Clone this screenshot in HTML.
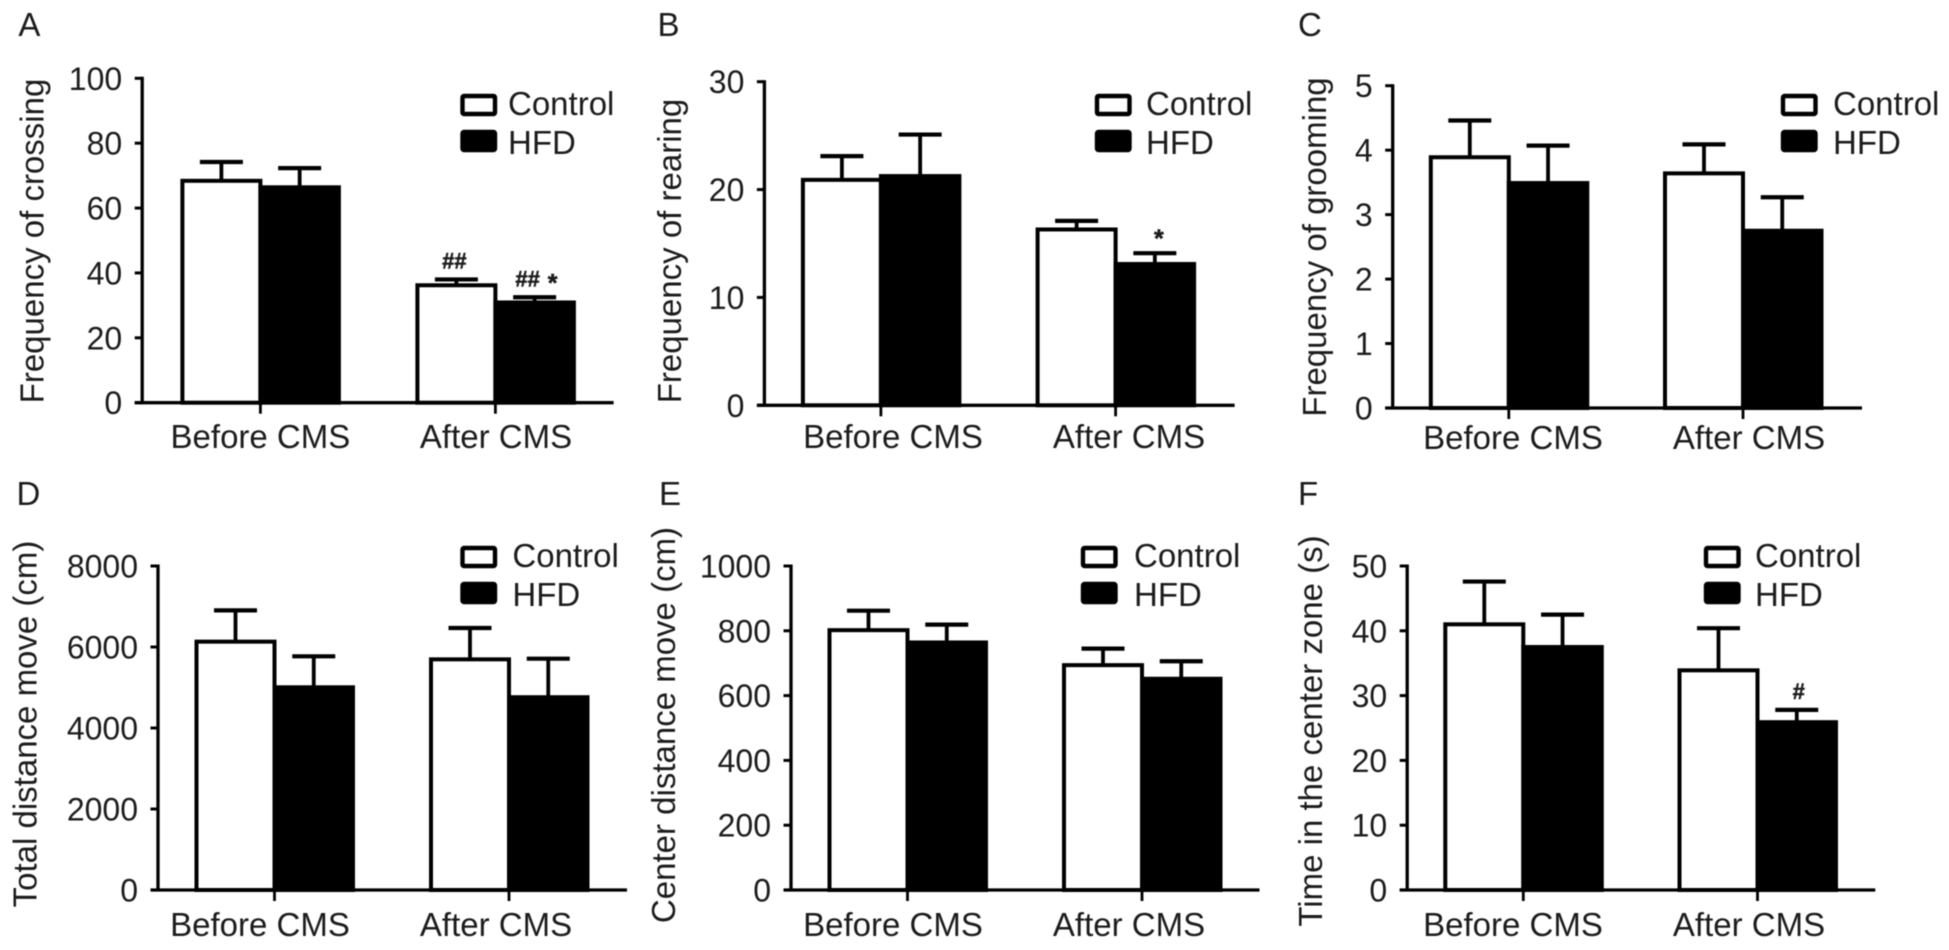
<!DOCTYPE html>
<html lang="en">
<head>
<meta charset="utf-8">
<title>Behavioural test bar charts</title>
<style>
html,body{margin:0;padding:0;background:#fff;width:1949px;height:950px;overflow:hidden}
svg{display:block;filter:blur(0.6px)}
text{font-family:"Liberation Sans",sans-serif;fill:#1c1c1c}
</style>
</head>
<body>
<svg id="figure" xmlns="http://www.w3.org/2000/svg" width="1949" height="950" viewBox="0 0 1949 950"></svg>
<script>
const categories = ['Before CMS', 'After CMS'];
const seriesNames = ['Control', 'HFD'];

const crossingTicks = [0, 20, 40, 60, 80, 100];
const crossingControl = [68.4, 36.2];
const crossingControlErr = [5.8, 1.8];
const crossingHfd = [66.4, 30.9];
const crossingHfdErr = [5.9, 1.6];

const rearingTicks = [0, 10, 20, 30];
const rearingControl = [20.9, 16.3];
const rearingControlErr = [2.2, 0.8];
const rearingHfd = [21.25, 13.1];
const rearingHfdErr = [3.85, 1.0];

const groomingTicks = [0, 1, 2, 3, 4, 5];
const groomingControl = [3.89, 3.64];
const groomingControlErr = [0.57, 0.45];
const groomingHfd = [3.49, 2.75];
const groomingHfdErr = [0.58, 0.52];

const totalDistanceTicks = [0, 2000, 4000, 6000, 8000];
const totalDistanceControl = [6132, 5695];
const totalDistanceControlErr = [773, 774];
const totalDistanceHfd = [5005, 4760];
const totalDistanceHfdErr = [765, 952];

const centerDistanceTicks = [0, 200, 400, 600, 800, 1000];
const centerDistanceControl = [802, 694];
const centerDistanceControlErr = [60, 51];
const centerDistanceHfd = [764, 652];
const centerDistanceHfdErr = [55, 54];

const centerTimeTicks = [0, 10, 20, 30, 40, 50];
const centerTimeControl = [41, 33.9];
const centerTimeControlErr = [6.6, 6.5];
const centerTimeHfd = [37.5, 25.9];
const centerTimeHfdErr = [5, 1.9];

const panels = [
  {key:'a', letter:'A', title:'Frequency of crossing', ticks:crossingTicks, control:crossingControl, controlErr:crossingControlErr, hfd:crossingHfd, hfdErr:crossingHfdErr,
   marks:[{series:0,cat:1,text:'##',dx:-2},{series:1,cat:1,text:'##',dx:-7},{series:1,cat:1,text:'*',dx:18}],
   box:{axisX:142.2,top:78.3,bottom:402.7,cat0:260.4,cat1:495.4,label0:260.4,label1:496,xEnd:613.6,titleX:43.5,titleY:241,letterX:18.4,letterY:36,legendX:460.5,legendTextX:508,legendY:94,labelY:448}},
  {key:'b', letter:'B', title:'Frequency of rearing', ticks:rearingTicks, control:rearingControl, controlErr:rearingControlErr, hfd:rearingHfd, hfdErr:rearingHfdErr,
   marks:[{series:1,cat:1,text:'*',dx:4}],
   box:{axisX:764.4,top:81.7,bottom:405.3,cat0:880.9,cat1:1115.6,label0:893,label1:1129,xEnd:1234.6,titleX:681,titleY:251,letterX:657.5,letterY:36,legendX:1095,legendTextX:1146,legendY:94,labelY:448}},
  {key:'c', letter:'C', title:'Frequency of grooming', ticks:groomingTicks, control:groomingControl, controlErr:groomingControlErr, hfd:groomingHfd, hfdErr:groomingHfdErr,
   marks:[],
   box:{axisX:1392.7,top:85.7,bottom:408,cat0:1508.8,cat1:1743,label0:1513,label1:1749,xEnd:1862,titleX:1326,titleY:247,letterX:1298,letterY:36,legendX:1781,legendTextX:1833,legendY:94,labelY:449}},
  {key:'d', letter:'D', title:'Total distance move (cm)', ticks:totalDistanceTicks, control:totalDistanceControl, controlErr:totalDistanceControlErr, hfd:totalDistanceHfd, hfdErr:totalDistanceHfdErr,
   marks:[],
   box:{axisX:158,top:566,bottom:890,cat0:274.5,cat1:509,label0:260,label1:496,xEnd:627,titleX:36.5,titleY:724,letterX:16.5,letterY:505,legendX:460.5,legendTextX:512.4,legendY:546,labelY:936}},
  {key:'e', letter:'E', title:'Center distance move (cm)', ticks:centerDistanceTicks, control:centerDistanceControl, controlErr:centerDistanceControlErr, hfd:centerDistanceHfd, hfdErr:centerDistanceHfdErr,
   marks:[],
   box:{axisX:791,top:566,bottom:890,cat0:907.5,cat1:1142,label0:893,label1:1129,xEnd:1259.5,titleX:675,titleY:725,letterX:659,letterY:505,legendX:1081,legendTextX:1134,legendY:546,labelY:936}},
  {key:'f', letter:'F', title:'Time in the center zone (s)', ticks:centerTimeTicks, control:centerTimeControl, controlErr:centerTimeControlErr, hfd:centerTimeHfd, hfdErr:centerTimeHfdErr,
   marks:[{series:1,cat:1,text:'#',dx:2}],
   box:{axisX:1407.2,top:566,bottom:890,cat0:1523.3,cat1:1757.5,label0:1513,label1:1749,xEnd:1875.3,titleX:1322,titleY:731,letterX:1298,letterY:505,legendX:1704,legendTextX:1755,legendY:546,labelY:936}}
];

const NS = 'http://www.w3.org/2000/svg';
const figure = document.getElementById('figure');

function make(parent, tag, attrs, name, interactable) {
  const el = document.createElementNS(NS, tag);
  for (const k in attrs) el.setAttribute(k, attrs[k]);
  
  
  parent.appendChild(el);
  return el;
}
function makeText(parent, str, attrs, name) {
  const el = make(parent, 'text', attrs, name, false);
  el.textContent = str;
  return el;
}
function line(parent, x1, y1, x2, y2, w, name) {
  return make(parent, 'line', {x1:x1, y1:y1, x2:x2, y2:y2, stroke:'#000', 'stroke-width':w}, name, false);
}

panels.forEach(function (p) {
  const b = p.box;
  const maxTick = p.ticks[p.ticks.length - 1];
  const yScale = function (v) { return b.bottom - (v / maxTick) * (b.bottom - b.top); };
  const catX = function (i) { return i === 0 ? b.cat0 : b.cat1; };
  const labelX = function (i) { return i === 0 ? b.label0 : b.label1; };
  const barW = function (series) { return series === 0 ? 78 : 78.5; };
  const barLeft = function (series, cat) { return series === 0 ? catX(cat) - 78 : catX(cat); };
  const barValue = function (series, cat) { return (series === 0 ? p.control : p.hfd)[cat]; };
  const barErr = function (series, cat) { return (series === 0 ? p.controlErr : p.hfdErr)[cat]; };

  const g = make(figure, 'g', {}, 'panel-' + p.key, false);

  makeText(g, p.letter, {x:b.letterX, y:b.letterY, 'font-size':33}, 'panel-letter-' + p.key);
  makeText(g, p.title, {x:b.titleX, y:b.titleY, 'font-size':33, 'text-anchor':'middle', transform:'rotate(-90 ' + b.titleX + ' ' + b.titleY + ')'}, 'y-axis-title-' + p.key);

  [0, 1].forEach(function (series) {
    categories.forEach(function (c, cat) {
      const x = barLeft(series, cat);
      const v = barValue(series, cat);
      const cap = yScale(v + barErr(series, cat));
      const cx = x + barW(series) / 2;
      line(g, cx, yScale(v), cx, cap, 3.8, 'error-stem-' + p.key + '-' + series + '-' + cat);
      line(g, cx - 21.5, cap, cx + 21.5, cap, 4.2, 'error-cap-' + p.key + '-' + series + '-' + cat);
      make(g, 'rect', {x:x, y:yScale(v), width:barW(series), height:b.bottom - yScale(v),
        fill: series === 0 ? '#fff' : '#000', stroke:'#000', 'stroke-width':4},
        'bar-' + p.key + '-' + seriesNames[series].toLowerCase() + '-' + cat, false);
    });
  });

  line(g, b.axisX, b.top - 1.5, b.axisX, b.bottom + 1.5, 3.3, 'y-axis-' + p.key);
  line(g, b.axisX - 7.5, b.bottom, b.xEnd, b.bottom, 3.3, 'x-axis-' + p.key);

  p.ticks.forEach(function (t) {
    const y = yScale(t);
    line(g, b.axisX - 7.5, y, b.axisX, y, 3, 'y-tick-' + p.key + '-' + t);
    makeText(g, String(t), {x:b.axisX - 20, y:y + 11.5, 'font-size':32, 'text-anchor':'end'}, 'y-tick-label-' + p.key + '-' + t);
  });

  categories.forEach(function (c, cat) {
    line(g, catX(cat), b.bottom, catX(cat), b.bottom + 11, 2.8, 'x-tick-' + p.key + '-' + cat);
    makeText(g, c, {x:labelX(cat), y:b.labelY, 'font-size':33, 'text-anchor':'middle'}, 'x-tick-label-' + p.key + '-' + cat);
  });

  p.marks.forEach(function (m, i) {
    const cap = yScale(barValue(m.series, m.cat) + barErr(m.series, m.cat));
    const x = barLeft(m.series, m.cat) + barW(m.series) / 2 + m.dx;
    const isStar = m.text === '*';
    makeText(g, m.text, {x:x, y:isStar ? cap - 6 : cap - 11, 'font-size':isStar ? 25 : 22, 'font-weight':'bold', 'text-anchor':'middle', stroke:'#1c1c1c', 'stroke-width':0.5}, 'significance-mark-' + p.key + '-' + i);
  });

  const lg = make(g, 'g', {}, 'legend-' + p.key, false);
  const swatchW = 32.5, swatchH = 18, rowGap = 36;
  seriesNames.forEach(function (s, i) {
    const y = b.legendY + i * rowGap;
    const entry = make(lg, 'g', {}, 'legend-entry-' + p.key + '-' + s.toLowerCase(), false);
    make(entry, 'rect', {x:b.legendX + 2, y:y + 2, width:swatchW, height:swatchH, rx:1.5, fill:i === 0 ? '#fff' : '#000', stroke:'#000', 'stroke-width':4.4}, 'legend-swatch-' + p.key + '-' + s.toLowerCase(), false);
    makeText(entry, s, {x:b.legendTextX, y:y + 21 + i * 3, 'font-size':33}, 'legend-label-' + p.key + '-' + s.toLowerCase());
  });
});
</script>
</body>
</html>
